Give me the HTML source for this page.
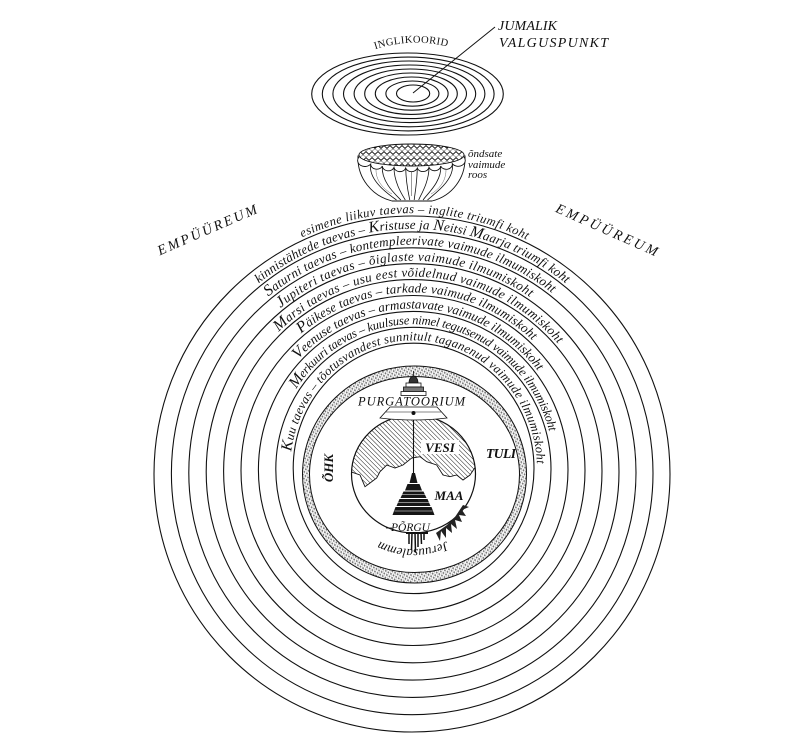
<!DOCTYPE html>
<html>
<head>
<meta charset="utf-8">
<style>
html,body{margin:0;padding:0;background:#fff;}
svg{display:block;}
text{font-family:"Liberation Serif","DejaVu Serif",serif;fill:#111;}
.arc{font-style:italic;font-size:13px;}
.big{font-size:16px;}
</style>
</head>
<body>
<svg width="791" height="754" viewBox="0 0 791 754" xmlns="http://www.w3.org/2000/svg">
<defs>
  <pattern id="hatch" width="3.2" height="3.2" patternUnits="userSpaceOnUse" patternTransform="rotate(-45)">
    <rect width="3.2" height="3.2" fill="#fff"/>
    <line x1="0" y1="0" x2="0" y2="3.2" stroke="#000" stroke-width="0.9"/>
  </pattern>
  <pattern id="band" width="3" height="3" patternUnits="userSpaceOnUse" patternTransform="rotate(30)">
    <rect width="3" height="3" fill="#fff"/>
    <circle cx="1.5" cy="1.5" r="0.85" fill="#555"/>
    <line x1="0" y1="0" x2="3" y2="3" stroke="#888" stroke-width="0.4"/>
  </pattern>
  <pattern id="scales" width="6" height="6" patternUnits="userSpaceOnUse">
    <rect width="6" height="6" fill="#fff"/>
    <circle cx="3" cy="1.5" r="2.3" fill="none" stroke="#000" stroke-width="0.55"/>
    <circle cx="0" cy="4.5" r="2.3" fill="none" stroke="#000" stroke-width="0.55"/>
    <circle cx="6" cy="4.5" r="2.3" fill="none" stroke="#000" stroke-width="0.55"/>
  </pattern>
  <clipPath id="earth"><ellipse cx="413.5" cy="474" rx="62" ry="59"/></clipPath>

  <path id="p0" d="M166.7 563.3 A261 261 0 1 1 657.3 563.3"/>
  <path id="p1" d="M183.1 556.9 A243.8 244.4 0 1 1 641.3 556.9"/>
  <path id="p2" d="M199.5 550.5 A226.6 227.8 0 1 1 625.3 550.5"/>
  <path id="p3" d="M215.8 544.1 A209.4 211.2 0 1 1 609.4 544.1"/>
  <path id="p4" d="M232.2 537.8 A192.2 194.6 0 1 1 593.4 537.8"/>
  <path id="p5" d="M248.6 531.4 A175 178 0 1 1 577.4 531.4"/>
  <path id="p6" d="M264.9 525.0 A157.8 161.4 0 1 1 561.5 525.0"/>
  <path id="p7" d="M281.3 518.6 A140.6 144.8 0 1 1 545.5 518.6"/>
  <path id="p8" d="M297.6 512.2 A123.4 128.2 0 1 1 529.6 512.2"/>
  <path id="pj" d="M478 511.5 A75 75 0 0 1 348 511.5"/>
  <path id="pi" d="M370 51 Q411 36 453 48"/>
</defs>

<!-- ===== Angel choirs (ellipses) ===== -->
<g fill="none" stroke="#111" stroke-width="1.1">
  <ellipse cx="407.5" cy="94" rx="95.8" ry="41"/>
  <ellipse cx="408.2" cy="94" rx="85.9" ry="36.9"/>
  <ellipse cx="408.9" cy="93.9" rx="76" ry="32.9"/>
  <ellipse cx="409.6" cy="93.8" rx="66.1" ry="28.8"/>
  <ellipse cx="410.3" cy="93.8" rx="56.2" ry="24.8"/>
  <ellipse cx="411" cy="93.7" rx="46.3" ry="20.7"/>
  <ellipse cx="411.7" cy="93.6" rx="36.4" ry="16.6"/>
  <ellipse cx="412.4" cy="93.6" rx="26.5" ry="12.6"/>
  <ellipse cx="413.1" cy="93.5" rx="16.6" ry="8.5"/>
  <line x1="413" y1="93" x2="495" y2="27" stroke-width="1"/>
</g>
<text x="498" y="30" font-size="14" font-style="italic" textLength="59">JUMALIK</text>
<text x="499" y="47" font-size="14" font-style="italic" textLength="109">VALGUSPUNKT</text>
<text font-size="10.5" letter-spacing="0.4"><textPath href="#pi" startOffset="50%" text-anchor="middle">INGLIKOORID</textPath></text>

<!-- ===== Rose ===== -->
<g stroke="#111" stroke-width="0.9" fill="#fff">
  <path d="M358 156 C357 178 372 196 392 201 L432 201 C452 196 466 178 465 156 Z"/>
  <g fill="none" stroke-width="0.8">
    <path d="M370.7 164 C368 180 388 194 396.5 200"/>
    <path d="M382.3 166 C381 182 396 195 400.9 200"/>
    <path d="M394 167.4 C394 183 403 196 405.3 200"/>
    <path d="M405.7 168 C406 184 409 196 409.8 200"/>
    <path d="M417.3 168 C417 184 414.5 196 414.2 200"/>
    <path d="M429 167.3 C429 183 420 196 418.7 200"/>
    <path d="M440.7 166 C442 182 426 195 423.1 200"/>
    <path d="M452.3 163.7 C455 180 434 194 427.5 200"/>
    <path d="M376 170 C376 182 385 190 392 194" stroke="#666" stroke-width="0.5"/>
    <path d="M446 170 C446 182 438 190 431 194" stroke="#666" stroke-width="0.5"/>
    <path d="M411.5 172 L411.5 196" stroke="#555" stroke-width="0.6"/>
  </g>
  <path d="M359 157 A6 5 0 0 0 370.7 164 A6 5 0 0 0 382.3 166 A6 5 0 0 0 394 167.4 A6 5 0 0 0 405.7 168 A6 5 0 0 0 417.3 168 A6 5 0 0 0 429 167.3 A6 5 0 0 0 440.7 166 A6 5 0 0 0 452.3 163.7 A6 5 0 0 0 464 157" fill="#fff"/>
  <ellipse cx="411.5" cy="155" rx="52.5" ry="11" fill="url(#scales)"/>
</g>
<g font-size="11" font-style="italic">
  <text x="468" y="157">õndsate</text>
  <text x="468" y="168">vaimude</text>
  <text x="468" y="178">roos</text>
</g>

<!-- ===== Empyrean labels ===== -->
<text transform="translate(209,234) rotate(-23.5)" font-size="14" font-style="italic" text-anchor="middle" textLength="107">EMPÜÜREUM</text>
<text transform="translate(605,234) rotate(24)" font-size="14" font-style="italic" text-anchor="middle" textLength="110">EMPÜÜREUM</text>

<!-- ===== Heavenly spheres ===== -->
<g fill="none" stroke="#111" stroke-width="1.1">
  <ellipse cx="412" cy="474" rx="258" ry="258"/>
  <ellipse cx="412.2" cy="473.3" rx="240.8" ry="241.4"/>
  <ellipse cx="412.4" cy="472.6" rx="223.6" ry="224.8"/>
  <ellipse cx="412.6" cy="471.9" rx="206.4" ry="208.2"/>
  <ellipse cx="412.8" cy="471.2" rx="189.2" ry="191.6"/>
  <ellipse cx="413" cy="470.5" rx="172" ry="175"/>
  <ellipse cx="413.2" cy="469.8" rx="154.8" ry="158.4"/>
  <ellipse cx="413.4" cy="469.1" rx="137.6" ry="141.8"/>
  <ellipse cx="413.6" cy="468.4" rx="120.4" ry="125.2"/>
</g>

<g class="arc">
  <text font-size="12.5"><textPath href="#p0" startOffset="387.2" textLength="232.3" lengthAdjust="spacing">esimene liikuv taevas – inglite triumfi koht</textPath></text>
  <text><textPath href="#p1" startOffset="302.5" textLength="332.3" lengthAdjust="spacing">kinnistähtede taevas – <tspan class="big">K</tspan>ristuse ja <tspan class="big">N</tspan>eitsi <tspan class="big">M</tspan>aarja triumfi koht</textPath></text>
  <text><textPath href="#p2" startOffset="280" textLength="306.9" lengthAdjust="spacing"><tspan class="big">S</tspan>aturni taevas – kontempleerivate vaimude ilmumiskoht</textPath></text>
  <text><textPath href="#p3" startOffset="260.6" textLength="267.9" lengthAdjust="spacing"><tspan class="big">J</tspan>upiteri taevas – õiglaste vaimude ilmumiskoht</textPath></text>
  <text><textPath href="#p4" startOffset="222.8" textLength="313.9" lengthAdjust="spacing"><tspan class="big">M</tspan>arsi taevas – usu eest võidelnud vaimude ilmumiskoht</textPath></text>
  <text><textPath href="#p5" startOffset="217.5" textLength="253.8" lengthAdjust="spacing"><tspan class="big">P</tspan>äikese taevas – tarkade vaimude ilmumiskoht</textPath></text>
  <text><textPath href="#p6" startOffset="177.2" textLength="274.1" lengthAdjust="spacing"><tspan class="big">V</tspan>eenuse taevas – armastavate vaimude ilmumiskoht</textPath></text>
  <text font-size="12.5"><textPath href="#p7" startOffset="135" textLength="325.8" lengthAdjust="spacing"><tspan class="big">M</tspan>erkuuri taevas – kuulsuse nimel tegutsenud vaimude ilmumiskoht</textPath></text>
  <text font-size="12.5"><textPath href="#p8" startOffset="61.5" textLength="373.3" lengthAdjust="spacing"><tspan class="big">K</tspan>uu taevas – tõotusvandest sunnitult taganenud vaimude ilmumiskoht</textPath></text>
</g>

<!-- ===== Sphere of fire band ===== -->
<path d="M302.5 474.5 A112 108.5 0 1 0 526.5 474.5 A112 108.5 0 1 0 302.5 474.5 Z M309.5 474.5 A105 98 0 1 1 519.5 474.5 A105 98 0 1 1 309.5 474.5 Z" fill="url(#band)" fill-rule="evenodd" stroke="#111" stroke-width="1"/>

<!-- ===== Earth ===== -->
<g clip-path="url(#earth)">
  <polygon points="351.5,472 360,475 365,486.7 370,483 376.7,478 380,471.7 386.7,465 395,468 403,465 411.7,458 420,456.7 426.7,461.7 436.7,465 443,475 450,476.7 456.7,475 463,480 470,475 476.7,465 480,460 480,405 345,405 345,472" fill="url(#hatch)"/>
  <polyline points="351.5,472 360,475 365,486.7 370,483 376.7,478 380,471.7 386.7,465 395,468 403,465 411.7,458 420,456.7 426.7,461.7 436.7,465 443,475 450,476.7 456.7,475 463,480 470,475 476.7,465 480,460" fill="none" stroke="#111" stroke-width="0.9"/>
</g>
<ellipse cx="413.5" cy="474" rx="62" ry="59" fill="none" stroke="#111" stroke-width="1.2"/>

<!-- VESI label -->
<rect x="421" y="440" width="38" height="14" fill="#fff"/>
<text x="440" y="452" font-size="13" font-style="italic" font-weight="bold" text-anchor="middle">VESI</text>

<!-- shaft -->
<line x1="413.5" y1="417" x2="413.5" y2="476" stroke="#111" stroke-width="1.1"/>

<!-- Purgatory -->
<g stroke="#111" stroke-width="0.8">
  <line x1="413.5" y1="371" x2="413.5" y2="377"/>
  <path d="M409 383 Q409 377 413.5 376 Q418 377 418 383 Z" fill="#333"/>
  <rect x="406" y="383" width="15" height="4" fill="#fff"/>
  <rect x="403.5" y="387" width="20" height="4.5" fill="#777"/>
  <rect x="401" y="391.5" width="25" height="4" fill="#fff"/>
  <path d="M390 407 L437 407 L447 418 Q413.5 422 380 418 Z" fill="#fff"/>
  <line x1="386" y1="412" x2="441" y2="412" stroke-width="0.6"/>
  <circle cx="413.5" cy="413" r="1.6" fill="#111"/>
</g>
<text x="411.5" y="405.5" font-size="12.5" font-style="italic" text-anchor="middle" textLength="107">PURGATOORIUM</text>

<!-- Hell cone -->
<g fill="#151515">
  <polygon points="412,473 415,473 417.5,483 409.5,483"/>
  <polygon points="407.5,484 419.5,484 422,490.5 405,490.5"/>
  <polygon points="403.5,491.5 423.5,491.5 426.5,498 400.5,498"/>
  <polygon points="399.5,499 427.5,499 430.5,506 396.5,506"/>
  <polygon points="395.5,507 431.5,507 434.5,515 392.5,515"/>
</g>
<g stroke="#fff" stroke-width="0.5">
  <line x1="402" y1="494.5" x2="425" y2="494.5"/>
  <line x1="398" y1="502.5" x2="429" y2="502.5"/>
  <line x1="394.5" y1="511" x2="432.5" y2="511"/>
</g>

<text x="449" y="500" font-size="13" font-style="italic" font-weight="bold" text-anchor="middle">MAA</text>
<text x="410.5" y="531" font-size="11.5" font-style="italic" text-anchor="middle">PÕRGU</text>
<line x1="386" y1="528" x2="392" y2="528" stroke="#111" stroke-width="0.8"/>

<!-- Jerusalem (hanging) -->
<g stroke="#111" stroke-width="1.5" fill="none">
  <path d="M409 533 L409 544"/>
  <path d="M412 533 L411.5 550"/>
  <path d="M415 533 L415.5 552"/>
  <path d="M418 533 L418 547"/>
  <path d="M421 533 L421.5 544"/>
  <path d="M424 533 L424 540"/>
  <path d="M406 533 L428 533" stroke-width="2"/>
</g>
<!-- trees bottom right -->
<path d="M436 533 L440 541 L441 531 L446 538 L446 528 L452 533 L451 524 L457 529 L455 520 L462 522 L459 515 L466 516 L462 510 L469 507 L463 505 L455 517 L447 525 Z" fill="#222"/>

<!-- Jeruusalemm (upside down) -->
<text font-size="13" font-style="italic"><textPath href="#pj" startOffset="50%" text-anchor="middle">Jeruusalemm</textPath></text>

<!-- ÕHK & TULI -->
<text transform="translate(333,468) rotate(-90)" font-size="13" font-style="italic" font-weight="bold" text-anchor="middle">ÕHK</text>
<text x="501" y="458" font-size="13.5" font-style="italic" font-weight="bold" text-anchor="middle" textLength="30">TULI</text>
</svg>
</body>
</html>
